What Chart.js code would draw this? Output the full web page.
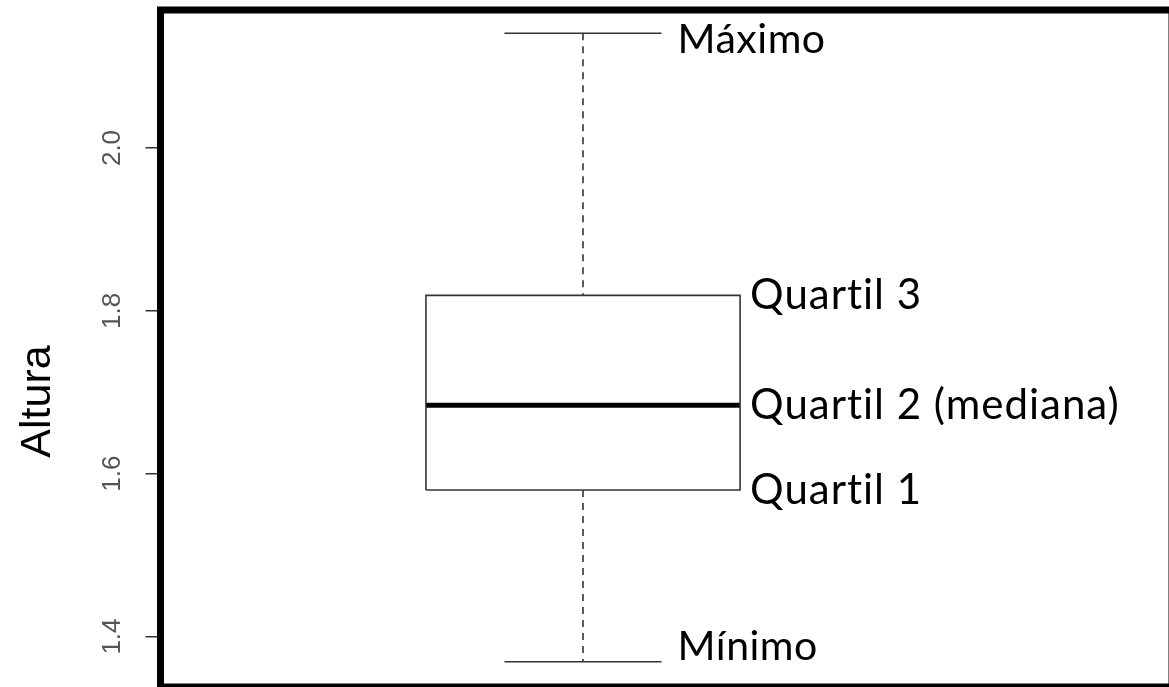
<!DOCTYPE html>
<html>
<head>
<meta charset="utf-8">
<script src="https://cdn.jsdelivr.net/npm/chart.js@4"></script>
<style>
  html, body { margin: 0; padding: 0; overflow: hidden; background: #fff; }
  #wrap { position: absolute; left: 0; top: 0; width: 1176px; height: 694px; }
</style>
</head>
<body>
<div id="wrap"><canvas id="boxChart"></canvas></div>
<script>
// resumo de cinco números da altura
const statLabels = ['Mínimo', 'Quartil 1', 'Quartil 2 (mediana)', 'Quartil 3', 'Máximo'];
const statValues = [1.369, 1.580, 1.684, 1.819, 2.141];
const yTicks = [1.4, 1.6, 1.8, 2.0];
const yRange = [1.338, 2.1695];
const axisTitle = 'Altura';

const [vMin, vQ1, vMed, vQ3, vMax] = statValues;
const pos = 1, half = 0.4, capHalf = 0.2;

const seg = (x0, y0, x1, y1) => [{ x: x0, y: y0 }, { x: x1, y: y1 }];
const lineStyle = { showLine: true, pointRadius: 0, borderColor: '#333', borderWidth: 1.6, fill: false };

const datasets = [
  { ...lineStyle, label: 'caixa', borderJoinStyle: 'miter', data: [
    { x: pos - half, y: vQ1 }, { x: pos + half, y: vQ1 }, { x: pos + half, y: vQ3 },
    { x: pos - half, y: vQ3 }, { x: pos - half, y: vQ1 }
  ] },
  { ...lineStyle, label: 'mediana', borderColor: '#000', borderWidth: 5, data: seg(pos - half, vMed, pos + half, vMed) },
  { ...lineStyle, label: 'bigode sup', borderDash: [7, 6], data: seg(pos, vMax, pos, vQ3) },
  { ...lineStyle, label: 'bigode inf', borderDash: [7, 6], data: seg(pos, vQ1, pos, vMin) },
  { ...lineStyle, label: 'máximo', data: seg(pos - capHalf, vMax, pos + capHalf, vMax) },
  { ...lineStyle, label: 'mínimo', data: seg(pos - capHalf, vMin, pos + capHalf, vMin) }
];

// moldura preta grossa
const frame = {
  id: 'frame',
  afterDraw(chart) {
    const { ctx, chartArea: a } = chart;
    ctx.save();
    ctx.lineWidth = 7;
    ctx.strokeStyle = '#000';
    ctx.strokeRect(a.left, a.top, a.right - a.left, a.bottom - a.top);
    ctx.restore();
  }
};

// rótulos ao lado da caixa + título do eixo
const notes = {
  id: 'notes',
  afterDraw(chart) {
    const { ctx, scales: { x, y } } = chart;
    ctx.save();
    ctx.fillStyle = '#000';
    ctx.textAlign = 'left';
    ctx.textBaseline = 'alphabetic';
    statLabels.forEach((t, i) => {
      const isEnd = i === 0 || i === statLabels.length - 1;
      ctx.font = isEnd ? '41px Lato' : '42px Lato';
      ctx.letterSpacing = isEnd ? '0.5px' : '1px';
      const px = x.getPixelForValue(isEnd ? pos + capHalf : pos + half) + (isEnd ? 16 : 10);
      const dy = i === 0 ? -2 : (isEnd ? 20 : 14);
      ctx.fillText(t, px, y.getPixelForValue(statValues[i]) + dy);
    });
    ctx.letterSpacing = '0px';
    ctx.translate(49.5, 401.5);
    ctx.rotate(-Math.PI / 2);
    ctx.font = '43px "Liberation Sans", Arial';
    ctx.textAlign = 'center';
    ctx.fillText(axisTitle, 0, 0);
    ctx.restore();
  }
};

new Chart(document.getElementById('boxChart'), {
  type: 'scatter',
  data: { datasets },
  plugins: [frame, notes],
  options: {
    responsive: true,
    maintainAspectRatio: false,
    animation: false,
    layout: { padding: { left: 0, top: 10, right: 4, bottom: 7 } },
    plugins: { legend: { display: false }, tooltip: { enabled: false } },
    scales: {
      x: { type: 'linear', display: false, min: -0.076, max: 2.5 },
      y: {
        type: 'linear',
        min: yRange[0],
        max: yRange[1],
        afterBuildTicks: s => { s.ticks = yTicks.map(v => ({ value: v })); },
        afterFit: s => { s.width = 160.5; s.paddingTop = 0; s.paddingBottom = 0; },
        border: { display: false },
        grid: { drawOnChartArea: false, drawTicks: true, tickLength: 15, color: '#333', lineWidth: 1.5 },
        ticks: {
          minRotation: 90,
          maxRotation: 90,
          crossAlign: 'center',
          padding: 15,
          color: '#555',
          font: { family: '"Liberation Sans", Arial', size: 26 },
          callback: v => v.toFixed(1)
        }
      }
    }
  }
});
</script>
</body>
</html>
